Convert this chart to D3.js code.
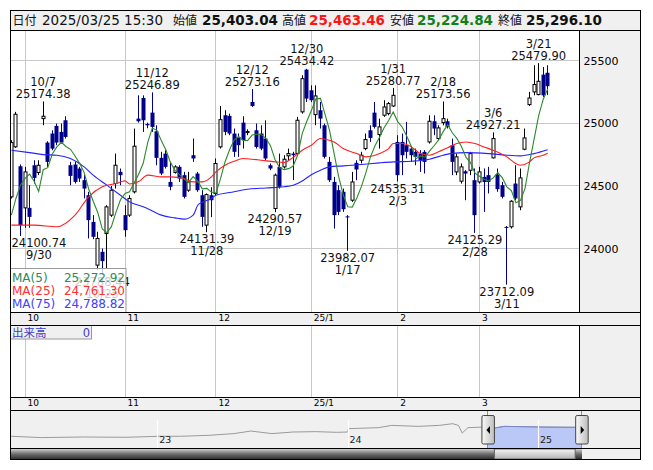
<!DOCTYPE html>
<html>
<head>
<meta charset="utf-8">
<script src="https://cdn.jsdelivr.net/npm/d3@7/dist/d3.min.js"></script>
<style>
  body { margin: 0; background: #fff; }
  svg text { font-family: "DejaVu Sans", "Noto Sans CJK JP", sans-serif; }
</style>
</head>
<body>
<svg id="chart" width="653" height="470"></svg>
<script>
// trading days on screen, per month
var monthDays = [
    [2024, 9, [26, 27, 30]],
    [2024, 10, [1, 2, 3, 4, 7, 8, 9, 10, 11, 15, 16, 17, 18, 21, 22, 23, 24, 25, 28, 29, 30, 31]],
    [2024, 11, [1, 5, 6, 7, 8, 11, 12, 13, 14, 15, 18, 19, 20, 21, 22, 25, 26, 27, 28, 29]],
    [2024, 12, [2, 3, 4, 5, 6, 9, 10, 11, 12, 13, 16, 17, 18, 19, 20, 23, 24, 25, 26, 27, 30]],
    [2025, 1, [6, 7, 8, 9, 10, 14, 15, 16, 17, 20, 21, 22, 23, 24, 27, 28, 29, 30, 31]],
    [2025, 2, [3, 4, 5, 6, 7, 10, 12, 13, 14, 17, 18, 19, 20, 21, 25, 26, 27, 28]],
    [2025, 3, [3, 4, 5, 6, 7, 10, 11, 12, 13, 14, 17, 18, 19, 21, 24, 25]]
];
var monthLabels = ["10", "11", "12", "25/1", "2", "3"];

var opens = [24413, 24812, 24657, 24325, 24325, 24665, 24607, 25037, 24846, 24918,
    24979, 24931, 25024, 24665, 24671, 24639, 24546, 24426, 24213, 23868,
    23974, 24120, 24267, 24519, 24612, 24267, 24267, 24453, 25037, 25202,
    24994, 25085, 24936, 24724, 24758, 24532, 24607, 24652, 24586, 24466,
    24745, 24599, 24426, 24187, 24426, 24439, 24812, 25064, 25059, 24918,
    24891, 25005, 24930, 25170, 24944, 24918, 24878, 24665, 24320, 24652,
    24652, 24740, 24758, 24758, 25091, 25428, 25263, 25069, 25104, 24984,
    24692, 24532, 24466, 24453, 24257, 24386, 24684, 24705, 24798, 24944,
    25085, 24910, 25064, 25077, 25138, 24851, 24851, 24825, 24798, 24772,
    24758, 24772, 24851, 25016, 24878, 25005, 25016, 24825, 24612, 24538,
    24617, 24625, 24546, 24532, 24572, 24586, 24724, 24591, 24506, 24173,
    24174, 24519, 24333, 24793, 25149, 25250, 25229, 25388, 25403.04];
var highs = [24865, 25091, 24671, 24652, 24506, 24705, 24705, 25174.38, 24857, 24944,
    24998, 24998, 25056, 24692, 24692, 24652, 24586, 24453, 24267, 24134,
    24001, 24346, 24500, 24758, 24639, 24346, 24426, 24958, 25223, 25223,
    25005, 25246.89, 24984, 24772, 24785, 24692, 24665, 24665, 24612, 24612,
    24878, 24612, 24466, 24440, 24490, 24719, 25138, 25104, 25077, 24958,
    24918, 25056, 24952, 25273.16, 24998, 24984, 25024, 24679, 24599, 24758,
    24745, 24798, 24772, 25051, 25383, 25434.42, 25303, 25303, 25170, 24998,
    24732, 24572, 24506, 24479, 24267, 24612, 24705, 24772, 24918, 24984,
    25170, 25037, 25184, 25170, 25280.77, 24905, 24918, 25011, 24811, 24798,
    24785, 24785, 25064, 25064, 24984, 25173.56, 25037, 24878, 24758, 24679,
    24626, 24772, 24639, 24652, 24639, 24652, 24927.21, 24639, 24532, 24180,
    24386, 24665, 24639, 24958, 25250, 25463, 25479.90, 25449, 25463.46];
var lows = [24400, 24804, 24100.74, 24166, 24166, 24519, 24586, 24984, 24652, 24785,
    24825, 24838, 24878, 24506, 24519, 24532, 24400, 24081, 24075, 23828,
    23788.44, 23841, 24253, 24479, 24506, 24094, 24253, 24440, 25005, 24931,
    24960, 24931, 24665, 24586, 24639, 24466, 24599, 24532, 24400, 24453,
    24692, 24453, 24174, 24131.39, 24251, 24426, 24798, 24905, 24905, 24732,
    24732, 24798, 24905, 25130, 24798, 24785, 24705, 24626, 24290.57, 24479,
    24639, 24705, 24546, 24745, 25077, 25170, 25170, 24984, 24958, 24719,
    24532, 24160, 24267, 24293, 23982.07, 24373, 24546, 24679, 24785, 24851,
    24958, 24798, 25051, 25064, 25130, 24535.31, 24586, 24719, 24692, 24665,
    24612, 24599, 24838, 24905, 24865, 24984, 24958, 24586, 24586, 24519,
    24386, 24586, 24125.29, 24519, 24293, 24440, 24719, 24453, 24400, 23712.09,
    24160, 24386, 24306, 24785, 25138, 25223, 25223, 25210, 25224.84];
var closes = [24846, 25072, 24187, 24612, 24253, 24564, 24665, 25056, 24692, 24798,
    24846, 24846, 24891, 24580, 24532, 24559, 24479, 24227, 24094, 24081,
    23900, 24333, 24466, 24665, 24586, 24147, 24400, 24817, 25016, 25024,
    24984, 24971, 24724, 24599, 24652, 24493, 24652, 24559, 24413, 24532,
    24719, 24466, 24253, 24431, 24386, 24679, 25029, 24931, 24918, 24772,
    24825, 24865, 24934, 25138, 24811, 24798, 24719, 24639, 24586, 24493,
    24713, 24758, 24745, 25024, 25356, 25197, 25184, 25218, 25037, 24732,
    24546, 24267, 24293, 24314, 24250, 24532, 24631, 24745, 24870, 24883,
    24971, 24971, 25130, 25157, 25223, 24586, 24745, 24772, 24745, 24732,
    24705, 24692, 25016, 24958, 24963, 25037, 24971, 24692, 24732, 24652,
    24599, 24758, 24267, 24612, 24532, 24532, 24878, 24474, 24413, 24168,
    24378, 24400, 24564, 24883, 25201.5, 25309, 25335, 25223, 25296.10];

// MA(5) for the first days (earlier closes are off screen)
var ma5Head = [24267, 24400, 24506, 24560];
var ma25Days = [0, 5, 10, 14, 17, 20, 23, 25, 26, 28, 30, 33, 35, 38, 40, 42, 44, 45, 47, 49,
    51, 53, 55, 58, 60, 62, 64, 66, 68, 69, 71, 73, 76, 78, 81, 83, 84, 86, 88, 90,
    92, 94, 96, 98, 100, 102, 104, 106, 109, 111, 112, 114, 115, 117, 118];
var ma25Vals = [24187, 24187, 24174, 24267, 24413, 24493, 24519, 24540, 24515, 24535, 24586, 24572, 24572, 24559, 24532, 24532, 24572, 24612, 24665, 24697,
    24719, 24713, 24705, 24692, 24687, 24728, 24785, 24825, 24878, 24873, 24851, 24798, 24758, 24732, 24758, 24798, 24838, 24838, 24811, 24758,
    24745, 24772, 24805, 24838, 24851, 24838, 24811, 24785, 24732, 24679, 24665, 24692, 24724, 24745, 24761.30];
var ma75Days = [0, 4, 7, 10, 13, 16, 18, 21, 24, 26, 29, 31, 33, 36, 38, 40, 41, 42, 44, 45,
    48, 52, 56, 60, 62, 64, 66, 68, 70, 73, 77, 81, 84, 88, 92, 95, 97, 100, 105, 109,
    112, 115, 118];
var ma75Vals = [24785, 24766, 24750, 24745, 24719, 24652, 24586, 24506, 24426, 24373, 24333, 24300, 24267, 24245, 24235, 24267, 24346, 24370, 24400, 24426,
    24447, 24474, 24484, 24493, 24506, 24540, 24590, 24625, 24652, 24660, 24671, 24684, 24692, 24697, 24713, 24745, 24760, 24766, 24758, 24745,
    24740, 24758, 24788.82];

var highMarks = [7, 31, 53, 65, 84, 95, 106, 116];
var lowMarks = [2, 20, 43, 58, 74, 85, 102, 109];
var yTicks = [24000, 24500, 25000, 25500];
var headerDate = "2025/03/25 15:30";

// navigator (3 years overview)
var navYears = [2022.23, 2022.39, 2022.61, 2022.83, 2023.01, 2023.12, 2023.27, 2023.40, 2023.49, 2023.60,
    2023.71, 2023.83, 2023.94, 2023.998, 2024.002, 2024.16, 2024.23, 2024.37, 2024.48, 2024.55,
    2024.58, 2024.60, 2024.63, 2024.71, 2024.75, 2024.82, 2025.04, 2025.227];
var navVals = [19635, 18617, 19086, 18851, 19635, 19635, 20418, 21750, 23786, 21750,
    23003, 23316, 22768, 23003, 25666, 26449, 28251, 27468, 28251, 29583,
    28251, 22220, 26449, 26919, 25666, 27468, 26919, 26684];
var navYearTicks = [2023, 2024, 2025];

function drawChart() {
    var svg = d3.select("#chart");
    var navy = "#00008b";
    var gray = "#f0f0f0";
    var gridColor = "#c8c8c8";

    var left = 10.5, right = 640.5, plotRight = 579.5;
    var headTop = 10.5, headBottom = 30.5, mainBottom = 312.5, strip1Bottom = 325.5,
        volBottom = 397.5, strip2Bottom = 410.5, navBottom = 448.5, scrollBottom = 459.5;

    var dates = [];
    monthDays.forEach(function (m) {
        m[2].forEach(function (d) { dates.push({ y: m[0], m: m[1], d: d }); });
    });
    var n = closes.length;
    var candles = d3.range(n).map(function (i) {
        return { i: i, o: opens[i], h: highs[i], l: lows[i], c: closes[i] };
    });
    var monthIdx = [];
    dates.forEach(function (d, i) {
        if (i > 0 && d.m !== dates[i - 1].m) monthIdx.push(i);
    });

    var x = d3.scaleLinear().domain([0, n - 1]).range([11.4, 547.7]);
    var y = d3.scaleLinear().domain([24000, 25500]).range([248.6, 60.6]);

    var defs = svg.append("defs");
    defs.append("clipPath").attr("id", "clipMain").append("rect")
        .attr("x", left).attr("y", headBottom).attr("width", plotRight - left).attr("height", mainBottom - headBottom);

    // panels
    svg.append("rect").attr("x", left).attr("y", headTop).attr("width", right - left).attr("height", scrollBottom - headTop).attr("fill", gray);
    svg.append("rect").attr("x", left).attr("y", headBottom).attr("width", plotRight - left).attr("height", mainBottom - headBottom).attr("fill", "#fff");
    svg.append("rect").attr("x", left).attr("y", strip1Bottom).attr("width", plotRight - left).attr("height", volBottom - strip1Bottom).attr("fill", "#fff");

    // grid
    var grid = svg.append("g").attr("stroke", gridColor);
    grid.selectAll("line.h").data(yTicks).join("line")
        .attr("x1", left).attr("x2", plotRight)
        .attr("y1", function (d) { return Math.floor(y(d)) + 0.5; })
        .attr("y2", function (d) { return Math.floor(y(d)) + 0.5; });
    [[headBottom, mainBottom], [strip1Bottom, volBottom]].forEach(function (r) {
        grid.append("g").selectAll("line").data(monthIdx).join("line")
            .attr("x1", function (d) { return Math.floor(x(d)) + 0.5; })
            .attr("x2", function (d) { return Math.floor(x(d)) + 0.5; })
            .attr("y1", r[0]).attr("y2", r[1]);
    });

    // candles
    var main = svg.append("g").attr("clip-path", "url(#clipMain)");
    var cg = main.append("g");
    cg.selectAll("line").data(candles).join("line")
        .attr("x1", function (d) { return Math.floor(x(d.i)) + 0.5; })
        .attr("x2", function (d) { return Math.floor(x(d.i)) + 0.5; })
        .attr("y1", function (d) { return y(d.h); })
        .attr("y2", function (d) { return y(d.l); })
        .attr("stroke", function (d) { return d.c >= d.o ? "#000" : navy; });
    cg.selectAll("rect").data(candles).join("rect")
        .attr("x", function (d) { return Math.floor(x(d.i)) + (d.c >= d.o ? -1.5 : -1.5); })
        .attr("width", 4)
        .attr("y", function (d) { return y(Math.max(d.o, d.c)); })
        .attr("height", function (d) { return Math.max(1, Math.abs(y(d.o) - y(d.c))); })
        .attr("fill", function (d) { return d.c >= d.o ? "#fff" : navy; })
        .attr("stroke", function (d) { return d.c >= d.o ? "#000" : "none"; })
        .each(function (d) {
            if (d.c >= d.o) d3.select(this).attr("x", Math.floor(x(d.i)) - 1).attr("width", 3);
        });

    // moving averages
    var ma5 = closes.map(function (c, i) {
        return i < 4 ? ma5Head[i] : d3.mean(closes.slice(i - 4, i + 1));
    });
    var line = d3.line().x(function (d) { return x(d[0]); }).y(function (d) { return y(d[1]); });
    var smooth = d3.line().curve(d3.curveMonotoneX).x(function (d) { return x(d[0]); }).y(function (d) { return y(d[1]); });
    main.append("path").attr("d", smooth(d3.zip(ma75Days, ma75Vals))).attr("fill", "none").attr("stroke", "#2323ff").attr("stroke-width", 1.1);
    main.append("path").attr("d", smooth(d3.zip(ma25Days, ma25Vals))).attr("fill", "none").attr("stroke", "#ff1e1e").attr("stroke-width", 1.1);
    main.append("path").attr("d", line(ma5.map(function (v, i) { return [i, v]; }))).attr("fill", "none").attr("stroke", "#2a8a2a").attr("stroke-width", 1.1);

    // high / low marks
    var marks = svg.append("g").attr("font-size", 11.5).attr("fill", "#111");
    function addMark(i, isHigh) {
        var d = dates[i];
        var val = isHigh ? highs[i] : lows[i];
        var yy = y(val);
        var dateText = d.m + "/" + d.d;
        var valText = d3.format(".2f")(val);
        var rows = isHigh ? [[dateText, yy - 15.5], [valText, yy - 3.5]] : [[valText, yy + 11], [dateText, yy + 23]];
        var g = marks.append("g");
        rows.forEach(function (r) {
            g.append("text").attr("x", x(i)).attr("y", r[1]).attr("text-anchor", "middle").text(r[0]);
        });
        var bb = g.node().getBBox();
        var shift = 0;
        if (bb.x < left + 1) shift = left + 1 - bb.x;
        if (bb.x + bb.width > plotRight - 1) shift = plotRight - 1 - bb.x - bb.width;
        g.attr("transform", "translate(" + shift + ",0)");
    }
    highMarks.forEach(function (i) { addMark(i, true); });
    lowMarks.forEach(function (i) { addMark(i, false); });

    // MA legend
    var fmt = d3.format(",.2f");
    var legend = svg.append("g").attr("font-size", 12);
    legend.append("rect").attr("x", left).attr("y", 268.5).attr("width", 115.5).attr("height", mainBottom - 268.5)
        .attr("fill", "#fff").attr("fill-opacity", 0.78).attr("stroke", "#999");
    [["MA(5)", ma5[n - 1], "#2e8b57"], ["MA(25)", ma25Vals[ma25Vals.length - 1], "#ff3030"], ["MA(75)", ma75Vals[ma75Vals.length - 1], "#4040ff"]]
        .forEach(function (r, k) {
            legend.append("text").attr("x", 12).attr("y", 281.5 + k * 13).attr("fill", r[2]).text(r[0]);
            legend.append("text").attr("x", 125).attr("y", 281.5 + k * 13).attr("fill", r[2]).attr("text-anchor", "end").text(fmt(r[1]));
        });

    // y axis labels
    svg.append("g").attr("transform", "translate(" + plotRight + ",0)")
        .call(d3.axisRight(y).tickValues(yTicks).tickSize(0).tickPadding(4).tickFormat(d3.format("d")))
        .attr("font-size", 11).attr("font-family", "DejaVu Sans")
        .call(function (g) { g.select(".domain").remove(); })
        .selectAll("text").attr("fill", "#000");

    // month strips
    [mainBottom, volBottom].forEach(function (top) {
        svg.append("g").attr("transform", "translate(0," + top + ")")
            .call(d3.axisBottom(x).tickValues(monthIdx).tickSize(0).tickPadding(2)
                .tickFormat(function (d, k) { return monthLabels[k]; }))
            .attr("font-size", 9).attr("font-family", "DejaVu Sans")
            .call(function (g) { g.select(".domain").remove(); })
            .selectAll("text").attr("text-anchor", "start").attr("dx", 2).attr("fill", "#000");
    });

    // volume legend
    svg.append("rect").attr("x", left).attr("y", strip1Bottom).attr("width", 81).attr("height", 13.5)
        .attr("fill", gray).attr("stroke", "#999");
    svg.append("text").attr("x", 12).attr("y", 336.5).attr("font-size", 11.5).attr("fill", "#3c3cc8").text("出来高");
    svg.append("text").attr("x", 90).attr("y", 336.5).attr("font-size", 11.5).attr("fill", "#3c3cc8").attr("text-anchor", "end").text("0");

    // header
    var last = candles[n - 1];
    var f2 = d3.format(",.2f");
    var head = svg.append("g");
    head.append("rect").attr("x", left).attr("y", headTop).attr("width", right - left).attr("height", headBottom - headTop)
        .attr("fill", gray).attr("stroke", "#000");
    [
        { t: "日付", x: 12.5, k: true },
        { t: headerDate, x: 42 },
        { t: "始値", x: 173, k: true },
        { t: f2(last.o), x: 202, b: true },
        { t: "高値", x: 282, k: true },
        { t: f2(last.h), x: 309, b: true, c: "#ff1414" },
        { t: "安値", x: 390, k: true },
        { t: f2(last.l), x: 417, b: true, c: "#11801a" },
        { t: "終値", x: 498, k: true },
        { t: f2(last.c), x: 526, b: true }
    ].forEach(function (p) {
        head.append("text").attr("x", p.x).attr("y", 24.5)
            .attr("font-size", p.k ? 12 : 13.5)
            .attr("font-weight", p.b ? "bold" : "normal")
            .attr("fill", p.c || "#111").text(p.t);
    });

    // navigator
    function yearFrac(d) {
        var s = new Date(d.y, 0, 1), e = new Date(d.y + 1, 0, 1), t = new Date(d.y, d.m - 1, d.d);
        return d.y + (t - s) / (e - s);
    }
    var navX = d3.scaleLinear().domain([2022.227, 2025.227]).range([left, 581.6]);
    var navY = d3.scaleLinear().domain([10000, 40000]).range([navBottom, strip2Bottom]);
    var navPts = d3.zip(navYears, navVals);
    var selX0 = navX(yearFrac(dates[0])), selX1 = navX(yearFrac(dates[n - 1]));
    defs.append("clipPath").attr("id", "clipSel").append("rect")
        .attr("x", selX0).attr("y", strip2Bottom).attr("width", selX1 - selX0).attr("height", navBottom - strip2Bottom);

    var navLine = d3.line().x(function (d) { return navX(d[0]); }).y(function (d) { return navY(d[1]); });
    var navArea = d3.area().x(function (d) { return navX(d[0]); }).y0(navBottom).y1(function (d) { return navY(d[1]); });
    svg.append("path").attr("d", navArea(navPts)).attr("fill", "#b9c8f6").attr("clip-path", "url(#clipSel)");
    svg.append("path").attr("d", navLine(navPts)).attr("fill", "none").attr("stroke", "#9a9a9a");
    svg.append("path").attr("d", navLine(navPts)).attr("fill", "none").attr("stroke", "#7b88cc").attr("clip-path", "url(#clipSel)");
    svg.append("g").selectAll("line").data(navYearTicks).join("line")
        .attr("x1", function (d) { return Math.floor(navX(d)) + 0.5; })
        .attr("x2", function (d) { return Math.floor(navX(d)) + 0.5; })
        .attr("y1", 420).attr("y2", navBottom).attr("stroke", "#fff").attr("stroke-width", 1.2);
    svg.append("g").attr("transform", "translate(0,436)")
        .call(d3.axisBottom(navX).tickValues(navYearTicks).tickSize(0).tickPadding(0)
            .tickFormat(function (d) { return String(d).slice(2); }))
        .attr("font-size", 9.5).attr("font-family", "DejaVu Sans")
        .call(function (g) { g.select(".domain").remove(); })
        .selectAll("text").attr("text-anchor", "start").attr("dx", 1).attr("fill", "#222");

    [selX0, selX1].forEach(function (sx) {
        svg.append("line").attr("x1", Math.floor(sx) + 0.5).attr("x2", Math.floor(sx) + 0.5)
            .attr("y1", strip2Bottom).attr("y2", navBottom).attr("stroke", "#2fb0e8");
    });

    // gradients
    var hg = defs.append("linearGradient").attr("id", "handleGrad").attr("x1", 0).attr("x2", 1).attr("y1", 0).attr("y2", 0);
    hg.append("stop").attr("offset", 0).attr("stop-color", "#fafafa");
    hg.append("stop").attr("offset", 1).attr("stop-color", "#bdbdbd");
    var tg = defs.append("linearGradient").attr("id", "trackGrad").attr("x1", 0).attr("x2", 0).attr("y1", 0).attr("y2", 1);
    tg.append("stop").attr("offset", 0).attr("stop-color", "#d8d8d8");
    tg.append("stop").attr("offset", 0.5).attr("stop-color", "#6e6e6e");
    tg.append("stop").attr("offset", 1).attr("stop-color", "#2a2a2a");
    var sg = defs.append("linearGradient").attr("id", "thumbGrad").attr("x1", 0).attr("x2", 0).attr("y1", 0).attr("y2", 1);
    sg.append("stop").attr("offset", 0).attr("stop-color", "#f6f6f6");
    sg.append("stop").attr("offset", 1).attr("stop-color", "#b4b4b4");

    [[selX0, -1], [selX1, 1]].forEach(function (h) {
        var cx = h[0];
        svg.append("rect").attr("x", cx - 6).attr("y", 415.5).attr("width", 12.5).attr("height", 28.5).attr("rx", 1.5)
            .attr("fill", "url(#handleGrad)").attr("stroke", "#444");
        var tx = cx + 0.5;
        svg.append("path").attr("fill", "#000")
            .attr("d", h[1] < 0 ? "M" + (tx + 1.5) + ",426 L" + (tx - 2) + ",430 L" + (tx + 1.5) + ",434 Z"
                : "M" + (tx - 1.5) + ",426 L" + (tx + 2) + ",430 L" + (tx - 1.5) + ",434 Z");
    });

    // scrollbar
    svg.append("rect").attr("x", left).attr("y", navBottom).attr("width", 582 - left).attr("height", scrollBottom - navBottom)
        .attr("fill", "url(#trackGrad)");
    svg.append("rect").attr("x", selX0 + 6.5).attr("y", navBottom + 0.5).attr("width", selX1 - selX0 - 13).attr("height", scrollBottom - navBottom - 1)
        .attr("fill", "url(#thumbGrad)").attr("stroke", "#666");

    // frame lines
    var frame = svg.append("g").attr("stroke", "#000").attr("fill", "none");
    [headBottom, mainBottom, strip1Bottom, volBottom, strip2Bottom, navBottom].forEach(function (yy) {
        frame.append("line").attr("x1", left).attr("x2", right).attr("y1", yy).attr("y2", yy);
    });
    [[headBottom, mainBottom], [strip1Bottom, volBottom]].forEach(function (r) {
        frame.append("line").attr("x1", plotRight).attr("x2", plotRight).attr("y1", r[0]).attr("y2", r[1]);
    });
    frame.append("rect").attr("x", left).attr("y", headTop).attr("width", right - left).attr("height", scrollBottom - headTop);
}

drawChart();
</script>
</body>
</html>
